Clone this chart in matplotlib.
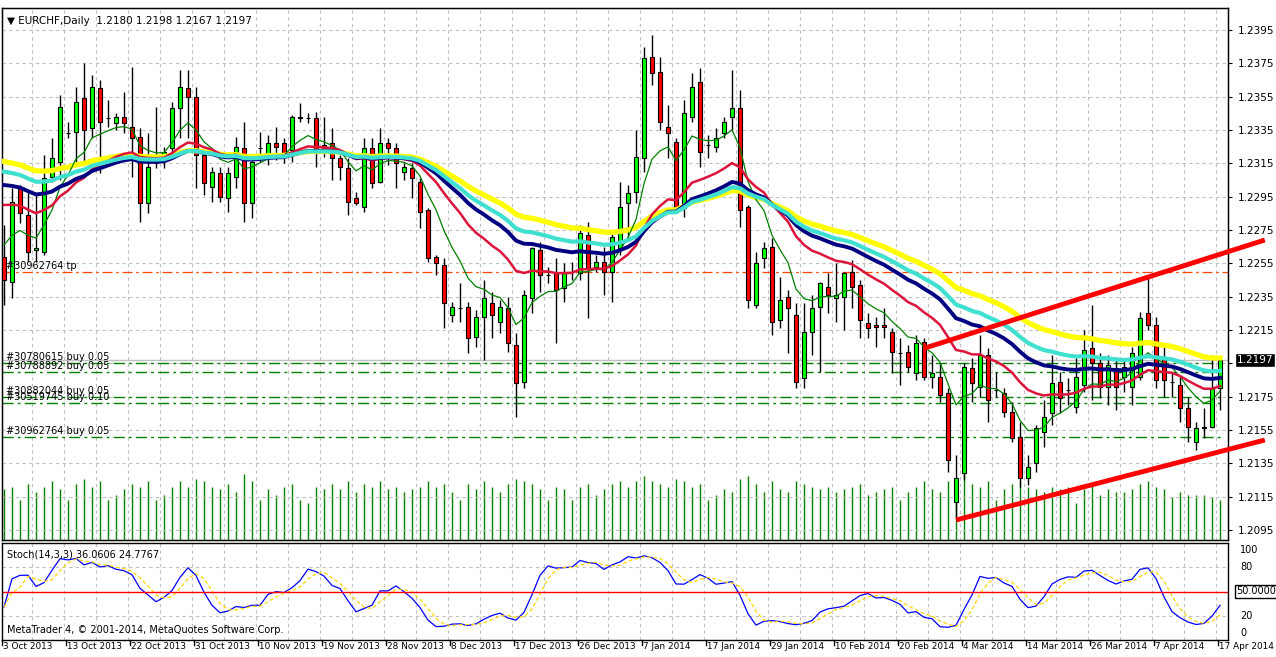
import numpy as np
import pandas as pd
import matplotlib
matplotlib.use("Agg")
import matplotlib.pyplot as plt

OPEN = [1.2259,1.2244,1.2300,1.2284,1.2263,1.2262,1.2307,1.2316,1.2333,1.2334,
        1.2354,1.2336,1.2360,1.2342,1.2339,1.2343,1.2337,1.2331,1.2291,1.2315,
        1.2320,1.2324,1.2348,1.2360,1.2355,1.2320,1.2301,1.2309,1.2294,1.2307,
        1.2324,1.2291,1.2324,1.2319,1.2327,1.2327,1.2323,1.2343,1.2342,1.2342,
        1.2326,1.2327,1.2318,1.2312,1.2294,1.2289,1.2324,1.2304,1.2327,1.2324,
        1.2310,1.2312,1.2304,1.2287,1.2259,1.2254,1.2224,1.2228,1.2229,1.2211,
        1.2223,1.2231,1.2220,1.2228,1.2206,1.2184,1.2234,1.2263,1.2248,1.2249,
        1.2240,1.2250,1.2249,1.2272,1.2253,1.2256,1.2250,1.2264,1.2291,1.2298,
        1.2318,1.2379,1.2370,1.2337,1.2328,1.2288,1.2343,1.2364,1.2326,1.2325,
        1.2333,1.2343,1.2348,1.2289,1.2230,1.2258,1.2265,1.2221,1.2235,1.2224,
        1.2186,1.2214,1.2229,1.2241,1.2234,1.2235,1.2250,1.2242,1.2219,1.2218,
        1.2218,1.2214,1.2201,1.2202,1.2189,1.2208,1.2187,1.2187,1.2177,1.2112,
        1.2129,1.2192,1.2181,1.2200,1.2179,1.2177,1.2166,1.2151,1.2126,1.2135,
        1.2154,1.2165,1.2184,1.2179,1.2169,1.2182,1.2204,1.2195,1.2181,1.2192,
        1.2187,1.2181,1.2187,1.2225,1.2218,1.2199,1.2184,1.2182,1.2168,1.2148,
        1.2156,1.2157,1.2180]
CLOSE = [1.2245,1.2292,1.2285,1.2262,1.2264,1.2306,1.2318,1.2349,1.2333,1.2352,
         1.2335,1.2361,1.2340,1.2342,1.2343,1.2339,1.2330,1.2291,1.2313,1.2316,
         1.2322,1.2348,1.2361,1.2355,1.2320,1.2303,1.2310,1.2295,1.2309,1.2325,
         1.2291,1.2316,1.2324,1.2327,1.2325,1.2321,1.2343,1.2342,1.2342,1.2321,
         1.2323,1.2318,1.2313,1.2292,1.2291,1.2324,1.2303,1.2327,1.2324,1.2315,
         1.2313,1.2306,1.2286,1.2258,1.2255,1.2231,1.2229,1.2228,1.2210,1.2223,
         1.2234,1.2224,1.2229,1.2207,1.2183,1.2236,1.2264,1.2248,1.2248,1.2239,
         1.2250,1.2250,1.2273,1.2252,1.2256,1.2250,1.2271,1.2289,1.2297,1.2319,
         1.2378,1.2369,1.2340,1.2333,1.2288,1.2345,1.2361,1.2322,1.2326,1.2330,
         1.2340,1.2348,1.2287,1.2233,1.2255,1.2264,1.2220,1.2233,1.2228,1.2184,
         1.2214,1.2228,1.2243,1.2236,1.2236,1.2249,1.2241,1.2221,1.2216,1.2217,
         1.2217,1.2202,1.2201,1.2193,1.2207,1.2187,1.2189,1.2176,1.2137,1.2126,
         1.2193,1.2183,1.2200,1.2173,1.2179,1.2166,1.2150,1.2126,1.2133,1.2156,
         1.2163,1.2183,1.2174,1.2179,1.2187,1.2203,1.2195,1.2181,1.2194,1.2181,
         1.2193,1.2201,1.2222,1.2218,1.2185,1.2185,1.2184,1.2168,1.2157,1.2156,
         1.2157,1.2180,1.2197]
HIGH = [1.2278,1.2300,1.2302,1.2297,1.2297,1.2320,1.2330,1.2356,1.2340,1.2361,
        1.2375,1.2368,1.2365,1.2353,1.2345,1.2358,1.2373,1.2336,1.2333,1.2349,
        1.2325,1.2352,1.2371,1.2371,1.2361,1.2322,1.2313,1.2313,1.2313,1.2331,
        1.2340,1.2320,1.2334,1.2332,1.2337,1.2330,1.2344,1.2351,1.2345,1.2346,
        1.2343,1.2336,1.2320,1.2318,1.2298,1.2330,1.2330,1.2336,1.2330,1.2327,
        1.2315,1.2315,1.2306,1.2288,1.2260,1.2258,1.2232,1.2243,1.2232,1.2227,
        1.2245,1.2238,1.2233,1.2235,1.2213,1.2239,1.2265,1.2268,1.2253,1.2258,
        1.2255,1.2256,1.2278,1.2280,1.2260,1.2265,1.2275,1.2304,1.2302,1.2335,
        1.2385,1.2392,1.2379,1.2350,1.2330,1.2353,1.2369,1.2372,1.2332,1.2336,
        1.2343,1.2371,1.2359,1.2290,1.2262,1.2268,1.2270,1.2247,1.2239,1.2231,
        1.2231,1.2236,1.2244,1.2249,1.2255,1.2250,1.2257,1.2245,1.2225,1.2223,
        1.2228,1.2216,1.2210,1.2206,1.2212,1.2210,1.2200,1.2195,1.2180,1.2140,
        1.2195,1.2198,1.2212,1.2204,1.2190,1.2180,1.2172,1.2160,1.2140,1.2158,
        1.2173,1.2200,1.2190,1.2186,1.2198,1.2215,1.2230,1.2201,1.2200,1.2199,
        1.2197,1.2205,1.2226,1.2248,1.2223,1.2205,1.2190,1.2187,1.2175,1.2160,
        1.2168,1.2200,1.2198]
LOW = [1.2230,1.2234,1.2279,1.2256,1.2256,1.2260,1.2304,1.2305,1.2330,1.2315,
       1.2315,1.2330,1.2309,1.2337,1.2335,1.2333,1.2307,1.2280,1.2285,1.2312,
       1.2312,1.2320,1.2330,1.2330,1.2300,1.2296,1.2292,1.2292,1.2286,1.2300,
       1.2280,1.2282,1.2316,1.2314,1.2317,1.2315,1.2316,1.2340,1.2339,1.2313,
       1.2319,1.2305,1.2305,1.2284,1.2290,1.2286,1.2300,1.2303,1.2314,1.2300,
       1.2305,1.2294,1.2276,1.2256,1.2248,1.2216,1.2220,1.2220,1.2201,1.2205,
       1.2197,1.2210,1.2213,1.2202,1.2163,1.2180,1.2225,1.2238,1.2243,1.2207,
       1.2232,1.2245,1.2245,1.2222,1.2250,1.2236,1.2232,1.2260,1.2270,1.2291,
       1.2310,1.2362,1.2335,1.2318,1.2285,1.2283,1.2340,1.2313,1.2318,1.2322,
       1.2330,1.2335,1.2277,1.2228,1.2228,1.2252,1.2212,1.2216,1.2201,1.2180,
       1.2180,1.2200,1.2190,1.2225,1.2220,1.2215,1.2228,1.2210,1.2210,1.2205,
       1.2210,1.2189,1.2182,1.2190,1.2185,1.2185,1.2180,1.2172,1.2130,1.2103,
       1.2125,1.2172,1.2175,1.2160,1.2175,1.2163,1.2148,1.2121,1.2122,1.2130,
       1.2145,1.2158,1.2165,1.2170,1.2165,1.2178,1.2173,1.2174,1.2170,1.2167,
       1.2178,1.2170,1.2185,1.2215,1.2180,1.2175,1.2175,1.2160,1.2148,1.2143,
       1.2150,1.2156,1.2167]
VOLUME = [38,40,30,42,36,40,44,38,30,42,46,40,44,30,34,38,42,40,44,30,
          34,40,44,40,46,44,40,38,42,36,50,44,30,38,34,40,42,30,28,40,
          38,42,38,44,36,42,40,44,38,40,36,38,40,44,40,42,36,30,42,38,
          44,40,36,42,46,44,42,38,30,40,38,30,40,42,34,38,42,44,40,44,
          48,44,42,40,46,44,40,42,30,34,38,36,46,48,42,36,44,38,36,44,
          42,40,38,40,36,38,40,42,34,36,38,40,30,36,40,44,38,36,44,46,
          50,42,40,44,30,38,42,44,40,38,36,40,38,40,28,38,42,34,38,36,
          36,38,42,44,40,38,32,36,34,34,34,32,30]
DATE_LABELS = ["3 Oct 2013","13 Oct 2013","22 Oct 2013","31 Oct 2013","10 Nov 2013",
               "19 Nov 2013","28 Nov 2013","8 Dec 2013","17 Dec 2013","26 Dec 2013",
               "7 Jan 2014","17 Jan 2014","29 Jan 2014","10 Feb 2014","20 Feb 2014",
               "4 Mar 2014","14 Mar 2014","26 Mar 2014","7 Apr 2014","17 Apr 2014"]
PRICE_TICKS = [1.2095,1.2115,1.2135,1.2155,1.2175,1.2195,1.2215,1.2235,1.2255,
               1.2275,1.2295,1.2315,1.2335,1.2355,1.2375,1.2395]
ORDERS = [("#30780615 buy 0.05",1.2195),("#30788892 buy 0.05",1.2190),
          ("#30882044 buy 0.05",1.2175),("#30519745 buy 0.10",1.2171),
          ("#30962764 buy 0.05",1.2151)]
TP = ("#30962764 tp",1.2250)
BID = 1.2197
STOCH_TEXT = "Stoch(14,3,3) 36.0606 24.7767"
MA_PERIODS = [8,21,34,42,55]
MA_SEED = [1.2266,1.2290,1.2302,1.2310,1.2316]
MA_COLORS = ["#008000","#DC143C","#000080","#40E0D0","#FFFF00"]
MA_WIDTHS = [0.9,1.8,2.8,3.0,3.8]
TREND_UP = [(116,1.2204),(158.6,1.2269)]
TREND_LO = [(120,1.2101),(158.6,1.2149)]

n = len(CLOSE)
idx = np.arange(1, n+1)
O = np.array(OPEN); C = np.array(CLOSE); H = np.array(HIGH); L = np.array(LOW)

fig = plt.figure(figsize=(12.76,6.57), dpi=100)
W, Hh = 1276, 657
ax = fig.add_axes([2/W, (Hh-540)/Hh, 1226/W, 532/Hh])
ax2 = fig.add_axes([2/W, (Hh-640)/Hh, 1226/W, 97/Hh])
xl = (0.75, 0.75+1226/8)
ytop = 1.2413-0.00006*8; ybot = 1.2413-0.00006*540

axv = ax.twinx()
axv.vlines(idx, 0, VOLUME, color="#008000", lw=1)
axv.set_ylim(0, 400); axv.set_yticks([]); axv.set_zorder(0)
ax.set_zorder(1); ax.patch.set_visible(False)

for a in (ax, ax2):
    a.set_xlim(*xl)
    a.set_xticks(np.arange(4.5, xl[1], 4), minor=False)
    a.grid(True, color="#C0C0C0", ls=(0,(3,3)), lw=0.8)
    a.tick_params(length=0, labelbottom=False, labelleft=False)
    for s in a.spines.values():
        s.set_color("black"); s.set_linewidth(1)
axv.set_xlim(*xl)
ax.set_ylim(ybot, ytop)
ax.set_yticks(PRICE_TICKS)
ax.yaxis.tick_right()
ax.tick_params(axis="y", labelright=True, length=3, labelsize=7.5, pad=4)
ax.set_yticklabels([f"{v:.4f}" for v in PRICE_TICKS])

up = C >= O
wb = 0.6
ax.vlines(idx, L, H, color="black", lw=1, zorder=3)
bh = np.abs(C-O)
bot = np.minimum(O, C)
ax.bar(idx[up], np.maximum(bh[up],1e-6), wb, bot[up], color="#00FF00", edgecolor="black", lw=0.8, zorder=4)
ax.bar(idx[~up], np.maximum(bh[~up],1e-6), wb, bot[~up], color="#FF0000", edgecolor="black", lw=0.8, zorder=4)

for p, seed, col, lw in zip(MA_PERIODS, MA_SEED, MA_COLORS, MA_WIDTHS):
    a_ = 2/(p+1); e = [seed]
    for c in C[1:]:
        e.append(a_*c + (1-a_)*e[-1])
    ax.plot(idx, e, color=col, lw=lw, zorder=5 if col != "#FFFF00" else 4.5)

for lab, pr in ORDERS:
    ax.axhline(pr, xmax=0.995, color="#008000", ls=(0,(8,3,2,3)), lw=1, zorder=2)
    ax.text(1.3, pr+0.00006, lab, fontsize=7, va="bottom", ha="left", zorder=6)
ax.axhline(TP[1], color="#FF4500", ls=(0,(8,3,2,3)), lw=0.9, zorder=2)
ax.text(1.3, TP[1]+0.00006, TP[0], fontsize=7, va="bottom", ha="left", zorder=6)
ax.axhline(BID, color="#C0C0C0", lw=1, zorder=2)
ax.text(1.007, BID, f"{BID:.4f}", transform=ax.get_yaxis_transform(), fontsize=7.5,
        color="white", va="center", ha="left",
        bbox=dict(boxstyle="square,pad=0.15", fc="black", ec="white"), zorder=10)

for tl in (TREND_UP, TREND_LO):
    ax.plot([tl[0][0], tl[1][0]], [tl[0][1], tl[1][1]], color="#FF0000", lw=3.5,
            solid_capstyle="butt", clip_on=False, zorder=7)

ax.text(0.004, 0.985, "\u25bc EURCHF,Daily  1.2180 1.2198 1.2167 1.2197", transform=ax.transAxes,
        fontsize=7.5, va="top", ha="left")

s = pd.Series(C)
ll = pd.Series(L).rolling(14, min_periods=1).min()
hh = pd.Series(H).rolling(14, min_periods=1).max()
num = (s-ll).rolling(3, min_periods=1).sum()
den = (hh-ll).rolling(3, min_periods=1).sum()
k = 100*num/den
d = k.rolling(3, min_periods=1).mean()
ax2.plot(idx, k, color="#0000FF", lw=0.9)
ax2.plot(idx, d, color="#FFD700", lw=0.9, ls=(0,(3,2)))
ax2.axhline(50, color="#FF0000", lw=1)
ax2.set_ylim(-8.4, 108.4)
ax2.set_yticks([20, 80])
ax2.yaxis.tick_right()
ax2.tick_params(axis="y", labelright=False)
tr = ax2.get_yaxis_transform()
for v, t in [(100,"100"),(80,"80"),(20,"20"),(0,"0")]:
    ax2.text(1.01, v, t, transform=tr, fontsize=7, va="center", ha="left")
ax2.text(1.007, 50, "50.0000", transform=tr, fontsize=7, va="center", ha="left",
         bbox=dict(boxstyle="square,pad=0.15", fc="white", ec="black"))
ax2.text(0.004, 0.93, STOCH_TEXT, transform=ax2.transAxes,
         fontsize=7, va="top", ha="left")
ax2.text(0.004, 0.05, "MetaTrader 4, \u00a9 2001-2014, MetaQuotes Software Corp.", transform=ax2.transAxes,
         fontsize=7, va="bottom", ha="left")

for i, lab in enumerate(DATE_LABELS):
    b = 1 + 8*i
    ax2.plot([b-0.3, b-0.3], [-8.4, -14], color="black", lw=1, clip_on=False)
    ax2.text(b-0.1, -11, lab, fontsize=6.4, va="top", ha="left", clip_on=False)

fig.savefig("out.png", dpi=100, facecolor="white")
